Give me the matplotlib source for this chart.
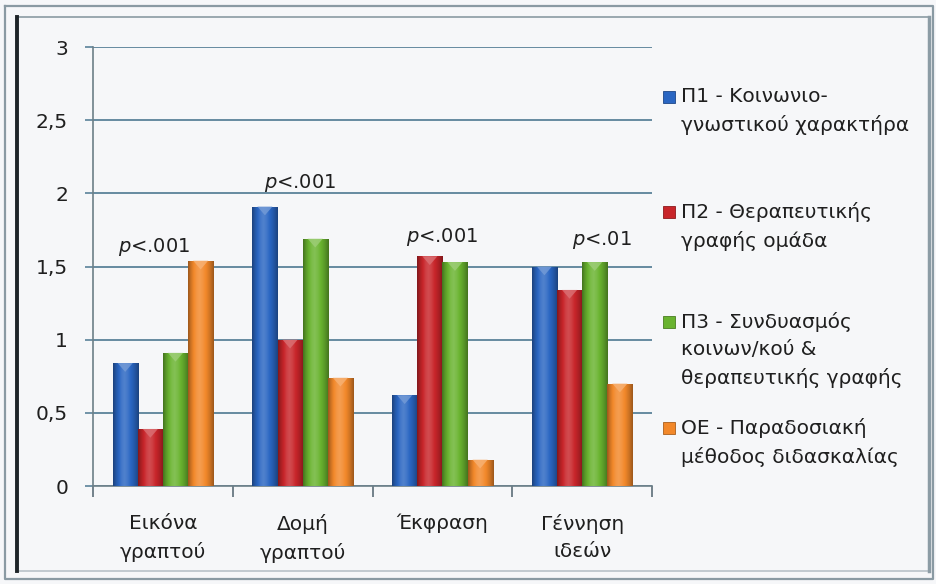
import numpy as np
import matplotlib.pyplot as plt
from matplotlib.patches import Rectangle
from matplotlib.colors import to_rgb

plt.rcParams['font.family'] = ['DejaVu Sans']
plt.rcParams['mathtext.fontset'] = 'dejavusans'

categories = ["Εικόνα\nγραπτού", "Δομή\nγραπτού", "Έκφραση", "Γέννηση\nιδεών"]
series_names = ["Π1 - Κοινωνιο-\nγνωστικού χαρακτήρα",
                "Π2 - Θεραπευτικής\nγραφής ομάδα",
                "Π3 - Συνδυασμός\nκοινων/κού &\nθεραπευτικής γραφής",
                "ΟΕ - Παραδοσιακή\nμέθοδος διδασκαλίας"]
p1 = [0.84, 1.91, 0.62, 1.50]
p2 = [0.39, 1.00, 1.57, 1.34]
p3 = [0.91, 1.69, 1.53, 1.53]
oe = [1.54, 0.74, 0.18, 0.70]
p_labels = ["$p$<.001", "$p$<.001", "$p$<.001", "$p$<.01"]
p_label_x = [-0.06, -0.02, 0.0, 0.14]
p_label_y = [1.63, 2.07, 1.70, 1.68]

colors = ['#2a66c2', '#c8252a', '#69b32f', '#f2882a']
bg = '#f6f7f9'
grid_c = '#5a8299'
txt_c = '#1f1f1f'
fs = 14.5

fig = plt.figure(figsize=(9.36, 5.84), dpi=100)
fig.patch.set_facecolor(bg)
ax = fig.add_axes([0.0994, 0.1678, 0.5972, 0.7517])
ax.set_facecolor(bg)


def shade(c, f):
    r = np.array(to_rgb(c))
    if f >= 0:
        return r + (1 - r) * f
    return r * (1 + f)


def gradient_bar(ax, x, h, w, c):
    # flat bar used for clipping, then a horizontal shading image on top
    bar = ax.bar(x, h, w, color=c, edgecolor='none', zorder=3)[0]
    prof = np.array([-0.35, -0.15, 0.0, 0.12, 0.18, 0.12, 0.02, -0.08, -0.2, -0.35])
    xs = np.linspace(0, 1, 64)
    f = np.interp(xs, np.linspace(0, 1, len(prof)), prof)
    img = np.array([[shade(c, v) for v in f]])
    im = ax.imshow(img, extent=(x - w / 2, x + w / 2, 0, h), aspect='auto',
                   interpolation='bilinear', zorder=4)
    im.set_clip_path(bar)
    cap = min(0.06, h * 0.5)
    ax.fill([x - w * 0.3, x + w * 0.3, x], [h, h, h - cap],
            color=shade(c, 0.35), lw=0, zorder=5, alpha=0.8)


x = np.arange(len(categories))
w = 0.18
for i, vals in enumerate([p1, p2, p3, oe]):
    for xi, v in zip(x, vals):
        gradient_bar(ax, xi + (i - 1.5) * w, v, w, colors[i])

for xi, lab, dx, y in zip(x, p_labels, p_label_x, p_label_y):
    ax.text(xi + dx, y, lab, ha='center', va='center', fontsize=fs - 0.5,
            color=txt_c, zorder=6)

ax.set_xlim(-0.5, 3.5)
ax.set_ylim(0, 3)
ax.set_yticks(np.arange(0, 3.01, 0.5))
ax.set_yticklabels(['0', '0,5', '1', '1,5', '2', '2,5', '3'])
ax.yaxis.grid(True, color=grid_c, lw=1.3, zorder=1)
ax.set_axisbelow(True)
ax.tick_params(axis='y', length=6, width=1.2, color=grid_c, pad=12,
               labelsize=fs, labelcolor=txt_c)

ax.set_xticks(x)
ax.set_xticklabels(categories, va='top', linespacing=1.55)
ax.set_xticks(np.arange(-0.5, 3.6, 1), minor=True)
ax.tick_params(axis='x', which='major', length=0, pad=20, labelsize=fs,
               labelcolor=txt_c)
ax.tick_params(axis='x', which='minor', length=8, width=1.2, color='#5c6e78')

for s in ['top', 'right']:
    ax.spines[s].set_visible(False)
ax.spines['left'].set_color('#6d7f88')
ax.spines['bottom'].set_color('#6d7f88')
ax.spines['left'].set_linewidth(1.2)
ax.spines['bottom'].set_linewidth(1.2)

# legend drawn as squares with text beside them
leg_y = [97, 212, 322, 428]
H = 584.0
for c, name, yy in zip(colors, series_names, leg_y):
    fig.patches.append(Rectangle((663 / 936, 1 - (yy + 6) / H), 12 / 936, 12 / H,
                                 transform=fig.transFigure, facecolor=c,
                                 edgecolor=shade(c, -0.3), lw=0.6))
    fig.text(681 / 936, 1 - (yy - 10) / H, name, ha='left', va='top',
             fontsize=fs, linespacing=1.55, color=txt_c)

# window frame around the chart
def frame_line(xs, ys, c, lw):
    fig.add_artist(plt.Line2D(np.array(xs) / 936, 1 - np.array(ys) / H,
                              transform=fig.transFigure, color=c, lw=lw))

frame_line([5, 933, 933, 5, 5], [6, 6, 579, 579, 6], '#8a9aa3', 1.6)
frame_line([17, 929], [17, 17], '#9aa8b0', 1.4)
frame_line([17, 929], [571, 571], '#b8c2c8', 1.2)
frame_line([929, 929], [17, 571], '#8c9ca5', 2.5)
frame_line([17, 17], [17, 571], '#1e2428', 2.8)

fig.savefig('out.png', dpi=100, facecolor=bg)
